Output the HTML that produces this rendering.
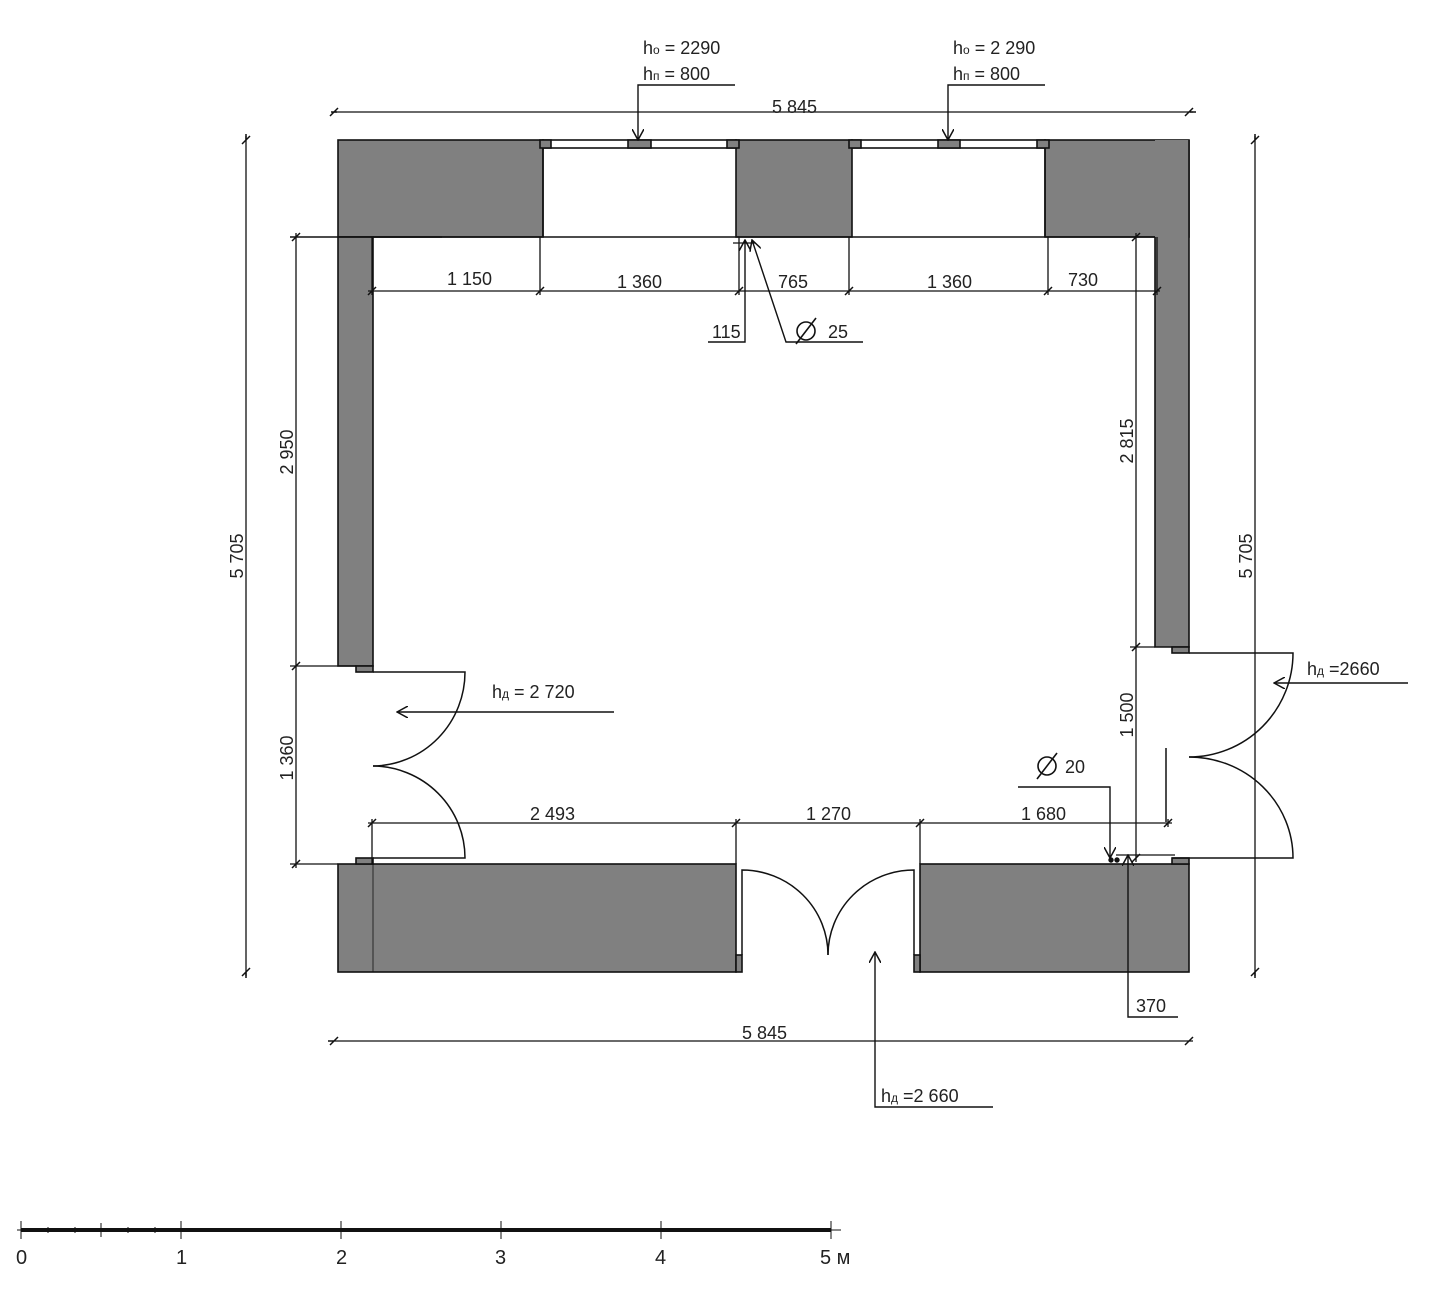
<!DOCTYPE html>
<html><head><meta charset="utf-8"><style>
html,body{margin:0;padding:0;background:#fff;}
svg{display:block}
text{font-family:"Liberation Sans",sans-serif;font-size:18px;fill:#222}
</style></head><body>
<svg width="1440" height="1301" viewBox="0 0 1440 1301" xmlns="http://www.w3.org/2000/svg">
<defs>
<marker id="a" viewBox="0 0 12 12" refX="11" refY="6" markerWidth="12" markerHeight="12" markerUnits="userSpaceOnUse" orient="auto"><path d="M0,0 L11,6 L0,12" fill="none" stroke="#111" stroke-width="1.5"/></marker>
</defs>
<g stroke="#111" stroke-width="1.6">
<!-- top wall -->
<rect x="338" y="140" width="205" height="97" fill="#808080"/>
<rect x="736" y="140" width="116" height="97" fill="#808080"/>
<rect x="1045" y="140" width="144" height="97" fill="#808080"/>
<rect x="1155" y="140" width="34" height="507" fill="#808080" stroke="none"/>
<path d="M1155,237 V647 H1189 V140" fill="none"/>
<rect x="338" y="237" width="35" height="429" fill="#808080"/>
<!-- windows -->
<rect x="543" y="140" width="193" height="8" fill="#fff"/>
<rect x="852" y="140" width="193" height="8" fill="#fff"/>
<rect x="540" y="140" width="11" height="8" fill="#808080"/>
<rect x="628" y="140" width="23" height="8" fill="#808080"/>
<rect x="727" y="140" width="12" height="8" fill="#808080"/>
<rect x="849" y="140" width="12" height="8" fill="#808080"/>
<rect x="938" y="140" width="22" height="8" fill="#808080"/>
<rect x="1037" y="140" width="12" height="8" fill="#808080"/>
<line x1="543" y1="148" x2="543" y2="237"/><line x1="1045" y1="148" x2="1045" y2="237"/>
<line x1="373" y1="237" x2="1155" y2="237"/>
<line x1="290" y1="237" x2="442" y2="237"/>
<!-- bottom wall -->
<rect x="338" y="864" width="398" height="108" fill="#808080"/>
<rect x="920" y="864" width="269" height="108" fill="#808080"/>
<rect x="736" y="955" width="6" height="17" fill="#808080"/>
<rect x="914" y="955" width="6" height="17" fill="#808080"/>
<line x1="373" y1="864" x2="373" y2="972" stroke-width="0.8"/>
<!-- small gray stops -->
<rect x="356" y="666" width="17" height="6" fill="#808080"/>
<rect x="356" y="858" width="17" height="6" fill="#808080"/>
<rect x="1172" y="647" width="17" height="6" fill="#808080"/>
<rect x="1172" y="858" width="17" height="6" fill="#808080"/>
</g>
<g stroke="#111" stroke-width="1.5" fill="none">
<!-- left door -->
<path d="M373,672 H465 A93,94 0 0 1 373,766"/>
<path d="M373,858 H465 A93,92 0 0 0 373,766"/>
<!-- right door -->
<path d="M1189,653 H1293 A104,104 0 0 1 1189,757"/>
<path d="M1172,858 H1293 A104,101 0 0 0 1189,757"/>
<line x1="1166" y1="748" x2="1166" y2="822"/>
<!-- bottom door -->
<path d="M742,955 V870 A86,85 0 0 1 828,955"/>
<path d="M914,955 V870 A86,85 0 0 0 828,955"/>
</g>
<g stroke="#111" stroke-width="1.3" fill="none">
<!-- overall dims -->
<line x1="334" y1="112" x2="1193" y2="112"/>
<line x1="334" y1="1041" x2="1193" y2="1041"/>
<line x1="246" y1="136" x2="246" y2="976"/>
<line x1="1255" y1="136" x2="1255" y2="976"/>
<!-- left dims -->
<line x1="296" y1="233" x2="296" y2="868"/>
<line x1="290" y1="666" x2="356" y2="666"/>
<line x1="290" y1="864" x2="338" y2="864"/>
<!-- right dims -->
<line x1="1136" y1="233" x2="1136" y2="862"/>
<line x1="1130" y1="647" x2="1155" y2="647"/>
<!-- inner top row -->
<line x1="368" y1="291" x2="1160" y2="291"/>
<line x1="372" y1="237" x2="372" y2="295"/>
<line x1="540" y1="237" x2="540" y2="295"/>
<line x1="739" y1="237" x2="739" y2="295"/>
<line x1="849" y1="237" x2="849" y2="295"/>
<line x1="1048" y1="237" x2="1048" y2="295"/>
<line x1="1157" y1="237" x2="1157" y2="295"/>
<!-- inner bottom row -->
<line x1="368" y1="823" x2="1172" y2="823"/>
<line x1="372" y1="819" x2="372" y2="864"/>
<line x1="736" y1="819" x2="736" y2="864"/>
<line x1="920" y1="819" x2="920" y2="864"/>
<line x1="1168" y1="819" x2="1168" y2="827"/>
<line x1="1116" y1="855" x2="1175" y2="855"/>
<!-- 115 small dim -->
<line x1="733" y1="243" x2="755" y2="243"/>
</g>
<!-- ticks -->
<g stroke="#111" stroke-width="1.5">
<path d="M330,116 l8,-8 M1185,116 l8,-8 M330,1045 l8,-8 M1185,1045 l8,-8 M242,144 l8,-8 M242,976 l8,-8 M1251,144 l8,-8 M1251,976 l8,-8 M292,241 l8,-8 M292,670 l8,-8 M292,868 l8,-8 M1132,241 l8,-8 M1132,651 l8,-8 M1132,862 l8,-8 M368,295 l8,-8 M536,295 l8,-8 M735,295 l8,-8 M845,295 l8,-8 M1044,295 l8,-8 M1153,295 l8,-8 M368,827 l8,-8 M732,827 l8,-8 M916,827 l8,-8 M1164,827 l8,-8 M331,112 h6 M1190,112 h6 M334,1041 h-6 M246,140 v-6 M246,972 v6 M1255,140 v-6 M1255,972 v6"/>
</g>
<!-- leaders -->
<g stroke="#111" stroke-width="1.4" fill="none">
<path d="M735,85 H638 V140" marker-end="url(#a)"/>
<path d="M1045,85 H948 V140" marker-end="url(#a)"/>
<path d="M708,342 H745 V240" marker-end="url(#a)"/>
<path d="M863,342 H786 L752,240" marker-end="url(#a)"/>
<path d="M1018,787 H1110 V858" marker-end="url(#a)"/>
<path d="M1178,1017 H1128 V855" marker-end="url(#a)"/>
<path d="M614,712 H397" marker-end="url(#a)"/>
<path d="M1408,683 H1274" marker-end="url(#a)"/>
<path d="M993,1107 H875 V952" marker-end="url(#a)"/>
<circle cx="1111" cy="860" r="2" fill="#111"/><circle cx="1117" cy="860" r="2" fill="#111"/>
</g>
<!-- diameter symbols -->
<g stroke="#111" stroke-width="1.6" fill="none">
<circle cx="806" cy="331" r="9"/><line x1="796" y1="344" x2="816" y2="318"/>
<circle cx="1047" cy="766" r="9"/><line x1="1037" y1="779" x2="1057" y2="753"/>
</g>
<!-- texts -->
<text x="643" y="54">h<tspan font-size="12">o</tspan> = 2290</text>
<text x="643" y="80">h<tspan font-size="12">п</tspan> =  800</text>
<text x="953" y="54">h<tspan font-size="12">o</tspan> = 2 290</text>
<text x="953" y="80">h<tspan font-size="12">п</tspan> =  800</text>
<text x="772" y="113">5 845</text>
<text x="742" y="1039">5 845</text>
<text x="447" y="285">1 150</text>
<text x="617" y="288">1 360</text>
<text x="778" y="288">765</text>
<text x="927" y="288">1 360</text>
<text x="1068" y="286">730</text>
<text x="712" y="338">115</text>
<text x="828" y="338">25</text>
<text x="1065" y="773">20</text>
<text x="1136" y="1012">370</text>
<text x="530" y="820">2 493</text>
<text x="806" y="820">1 270</text>
<text x="1021" y="820">1 680</text>
<text x="492" y="698">h<tspan font-size="12">д</tspan> =  2 720</text>
<text x="1307" y="675">h<tspan font-size="12">д</tspan> =2660</text>
<text x="881" y="1102">h<tspan font-size="12">д</tspan> =2 660</text>
<text transform="translate(243,556) rotate(-90)" text-anchor="middle">5 705</text>
<text transform="translate(1252,556) rotate(-90)" text-anchor="middle">5 705</text>
<text transform="translate(293,452) rotate(-90)" text-anchor="middle">2 950</text>
<text transform="translate(293,758) rotate(-90)" text-anchor="middle">1 360</text>
<text transform="translate(1133,441) rotate(-90)" text-anchor="middle">2 815</text>
<text transform="translate(1133,715) rotate(-90)" text-anchor="middle">1 500</text>
<!-- scale bar -->
<g stroke="#111">
<line x1="17" y1="1230" x2="841" y2="1230" stroke-width="1"/>
<line x1="21" y1="1230" x2="831" y2="1230" stroke-width="4"/>
<path d="M21,1221 v18 M181,1221 v18 M341,1221 v18 M501,1221 v18 M661,1221 v18 M831,1221 v18 M101,1223 v14 M48,1227 v6 M75,1227 v6 M128,1227 v6 M155,1227 v6" stroke-width="1"/>
</g>
<g style="font-size:20px">
<text x="16" y="1264" style="font-size:20px">0</text>
<text x="176" y="1264" style="font-size:20px">1</text>
<text x="336" y="1264" style="font-size:20px">2</text>
<text x="495" y="1264" style="font-size:20px">3</text>
<text x="655" y="1264" style="font-size:20px">4</text>
<text x="820" y="1264" style="font-size:20px">5 м</text>
</g>
</svg>
</body></html>
